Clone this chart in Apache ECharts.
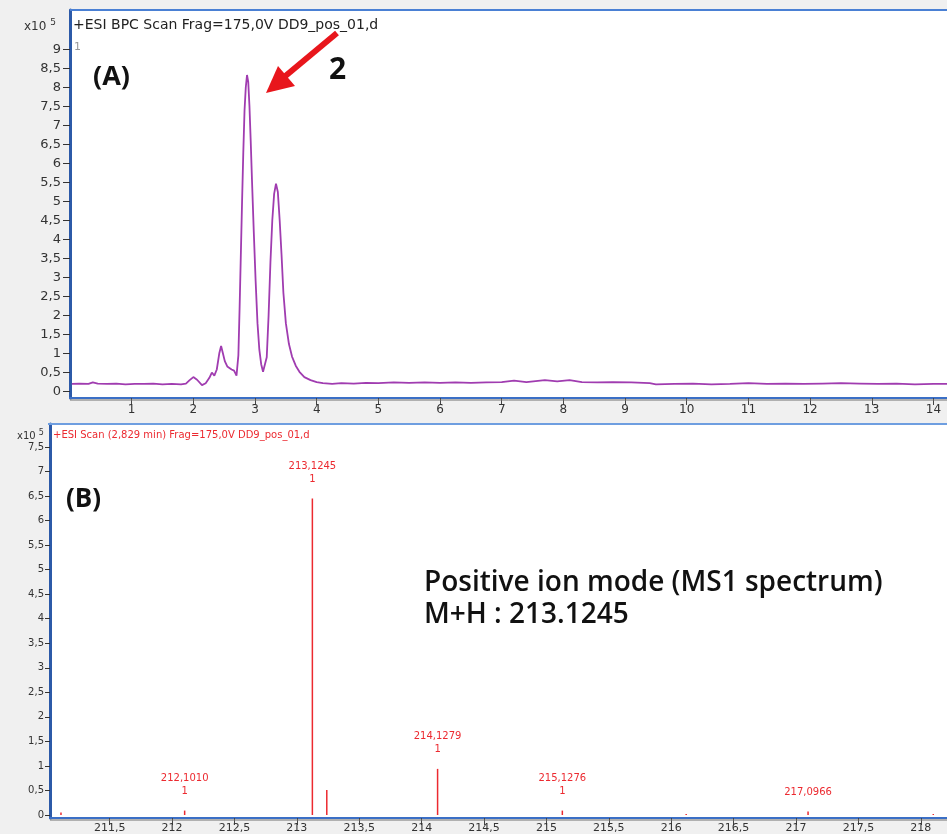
<!DOCTYPE html>
<html><head><meta charset="utf-8">
<script src="https://cdn.jsdelivr.net/npm/echarts@6/dist/echarts.min.js"></script>
<style>html,body{margin:0;padding:0;background:#f0f0f0}#c{width:947px;height:834px}</style>
</head><body><div id="c"></div>
<script>
// (A) BPC chromatogram: retention time (min) vs intensity (x10^5)
const bpcTime = [0.03,0.15,0.30,0.37,0.45,0.60,0.75,0.90,1.05,1.20,1.35,1.50,1.65,1.80,1.88,1.94,2.00,2.06,2.14,2.20,2.26,2.30,2.34,2.38,2.42,2.45,2.48,2.51,2.55,2.58,2.62,2.66,2.70,2.73,2.75,2.77,2.79,2.81,2.83,2.85,2.87,2.89,2.91,2.93,2.95,2.98,3.01,3.04,3.07,3.10,3.13,3.16,3.19,3.22,3.25,3.28,3.31,3.34,3.37,3.40,3.43,3.46,3.50,3.55,3.60,3.66,3.72,3.80,3.90,4.00,4.10,4.25,4.40,4.60,4.80,5.00,5.25,5.50,5.75,6.00,6.25,6.50,6.75,7.00,7.20,7.40,7.70,7.90,8.10,8.30,8.55,8.80,9.10,9.40,9.50,9.80,10.10,10.40,10.70,11.00,11.30,11.60,11.90,12.20,12.50,12.80,13.10,13.40,13.70,14.00,14.22];
const bpcIntensity = [0.20,0.21,0.20,0.24,0.21,0.20,0.21,0.19,0.20,0.20,0.21,0.19,0.20,0.19,0.21,0.30,0.38,0.31,0.17,0.22,0.36,0.50,0.42,0.58,1.00,1.20,1.00,0.80,0.66,0.70,0.58,0.55,0.42,0.95,2.2,3.6,5.0,6.3,7.4,8.0,8.33,8.15,7.5,6.6,5.6,4.2,2.9,1.8,1.1,0.72,0.52,0.56,0.9,2.0,3.4,4.5,5.2,5.47,5.25,4.5,3.6,2.6,1.8,1.25,0.92,0.68,0.52,0.38,0.30,0.25,0.22,0.20,0.22,0.21,0.23,0.22,0.24,0.23,0.24,0.23,0.24,0.23,0.24,0.25,0.29,0.25,0.30,0.27,0.30,0.25,0.24,0.25,0.24,0.22,0.19,0.20,0.21,0.19,0.20,0.22,0.20,0.21,0.20,0.21,0.22,0.21,0.20,0.21,0.19,0.20,0.20];
const bpcYTicks = [0,0.5,1,1.5,2,2.5,3,3.5,4,4.5,5,5.5,6,6.5,7,7.5,8,8.5,9];
const bpcXTicks = [1,2,3,4,5,6,7,8,9,10,11,12,13,14];

// (B) MS1 spectrum: m/z vs intensity (x10^5)
const msMz = [211.11,212.1010,213.1245,213.24,214.1279,215.1276,216.12,217.0966,218.10];
const msIntensity = [0.05,0.09,6.45,0.51,0.94,0.09,0.02,0.07,0.02];
const msLabels = ['','212,1010\n1','213,1245\n1','','214,1279\n1','215,1276\n1','','217,0966',''];
const msYTicks = [0,0.5,1,1.5,2,2.5,3,3.5,4,4.5,5,5.5,6,6.5,7,7.5];
const msXTicks = [211.5,212,212.5,213,213.5,214,214.5,215,215.5,216,216.5,217,217.5,218];

const comma = v => String(v).replace('.', ',');
const chart = echarts.init(document.getElementById('c'), null, {renderer:'canvas'});
const FONT = 'DejaVu Sans';
const purple = '#a03cb0';
const red = '#ec2a30';

chart.setOption({
  backgroundColor: '#f0f0f0',
  animation: false,
  grid: [
    {left:70, top:10, width:877, height:388, show:true, backgroundColor:'#ffffff', borderWidth:0},
    {left:50, top:424, width:897, height:394, show:true, backgroundColor:'#ffffff', borderWidth:0}
  ],
  xAxis: [
    {type:'value', gridIndex:0, min:0, max:14.22,
     axisLine:{show:true, onZero:false, lineStyle:{color:'#3b6fc6', width:2}},
     axisTick:{show:true, length:7, customValues:bpcXTicks, lineStyle:{color:'#444'}},
     axisLabel:{customValues:bpcXTicks, color:'#333', fontFamily:FONT, fontSize:12, margin:6, formatter:comma},
     splitLine:{show:false}},
    {type:'value', gridIndex:1, min:211.022, max:218.21,
     axisLine:{show:true, onZero:false, lineStyle:{color:'#3b6fc6', width:2}},
     axisTick:{show:true, length:7, customValues:msXTicks, lineStyle:{color:'#444'}},
     axisLabel:{customValues:msXTicks, color:'#333', fontFamily:FONT, fontSize:11, margin:5, formatter:comma},
     splitLine:{show:false}}
  ],
  yAxis: [
    {type:'value', gridIndex:0, min:-0.17, max:10.04,
     axisLine:{show:true, onZero:false, lineStyle:{color:'#2c5aa8', width:3}},
     axisTick:{show:true, length:7, customValues:bpcYTicks, lineStyle:{color:'#333'}},
     axisLabel:{customValues:bpcYTicks, color:'#333', fontFamily:FONT, fontSize:13, margin:9, formatter:comma},
     splitLine:{show:false}},
    {type:'value', gridIndex:1, min:-0.061, max:7.968,
     axisLine:{show:true, onZero:false, lineStyle:{color:'#2c5aa8', width:3}},
     axisTick:{show:true, length:5, customValues:msYTicks, lineStyle:{color:'#333'}},
     axisLabel:{customValues:msYTicks, color:'#333', fontFamily:FONT, fontSize:10, margin:6, formatter:comma},
     splitLine:{show:false}}
  ],
  series: [
    {type:'line', xAxisIndex:0, yAxisIndex:0, showSymbol:false, clip:true,
     lineStyle:{color:purple, width:1.8}, itemStyle:{color:purple},
     data: bpcTime.map((t,i)=>[t, bpcIntensity[i]])},
    {type:'bar', xAxisIndex:1, yAxisIndex:1, barWidth:1.5,
     itemStyle:{color:red},
     label:{show:true, position:'top', distance:13, color:red, fontFamily:FONT, fontSize:10, lineHeight:13, align:'center',
            formatter: p => msLabels[p.dataIndex]},
     data: msMz.map((m,i)=>[m, msIntensity[i]])}
  ],
  graphic: [
    {type:'line', shape:{x1:70, y1:10, x2:947, y2:10}, style:{stroke:'#4a80d4', lineWidth:2}, z:100},
    {type:'line', shape:{x1:70, y1:400, x2:947, y2:400}, style:{stroke:'#707070', lineWidth:1}, z:100},
    {type:'line', shape:{x1:48, y1:424, x2:947, y2:424}, style:{stroke:'#6e9ee0', lineWidth:2}, z:100},
    {type:'line', shape:{x1:50, y1:820, x2:947, y2:820}, style:{stroke:'#707070', lineWidth:1}, z:100},
    {type:'text', left:24, top:18, style:{text:'x10{s|5}', fill:'#333', font:'12px '+FONT, rich:{s:{fontSize:9, fontFamily:FONT, fill:'#333', padding:[0,0,8,4]}}}, z:100},
    {type:'text', left:73, top:18, style:{text:'+ESI BPC Scan Frag=175,0V DD9_pos_01,d', fill:'#222', font:'14px '+FONT}, z:100},
    {type:'text', left:74, top:42, style:{text:'1', fill:'#999', font:'11px '+FONT}, z:100},
    {type:'text', left:17, top:429, style:{text:'x10{s|5}', fill:'#333', font:'10px '+FONT, rich:{s:{fontSize:8, fontFamily:FONT, fill:'#333', padding:[0,0,7,3]}}}, z:100},
    {type:'text', left:53, top:430, style:{text:'+ESI Scan (2,829 min) Frag=175,0V DD9_pos_01,d', fill:red, font:'10px '+FONT}, z:100},
    {type:'text', x:93, y:77, style:{text:'(A)', fill:'#111', font:'bold 27px "Open Sans"', verticalAlign:'middle'}, z:100},
    {type:'text', x:329, y:70, style:{text:'2', fill:'#111', font:'bold 30px "Open Sans"', verticalAlign:'middle'}, z:100},
    {type:'text', x:66, y:500, style:{text:'(B)', fill:'#111', font:'bold 26px "Open Sans"', verticalAlign:'middle'}, z:100},
    {type:'text', x:424, y:583, style:{text:'Positive ion mode (MS1 spectrum)', fill:'#111', font:'600 28px "Open Sans"', verticalAlign:'middle'}, z:100},
    {type:'text', x:424, y:615, style:{text:'M+H : 213.1245', fill:'#111', font:'600 28px "Open Sans"', verticalAlign:'middle'}, z:100},
    {type:'line', shape:{x1:337, y1:33, x2:283, y2:78}, style:{stroke:'#e8161c', lineWidth:6}, z:100},
    {type:'polygon', shape:{points:[[266,93],[278,66],[295,86]]}, style:{fill:'#e8161c'}, z:100}
  ]
});
</script></body></html>
